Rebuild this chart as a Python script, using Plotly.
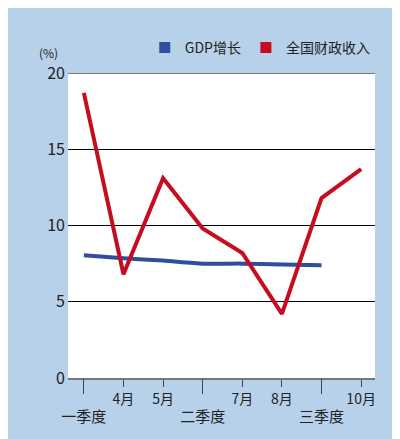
import plotly.graph_objects as go

positions = [0, 1, 2, 3, 4, 5, 6, 7]
month_pos = [1, 2, 4, 5, 7]
month_labels = ["4月", "5月", "7月", "8月", "10月"]
quarter_pos = [0, 3, 6]
quarter_labels = ["一季度", "二季度", "三季度"]

fiscal = [18.7, 6.8, 13.1, 9.8, 8.2, 4.2, 11.8, 13.7]
gdp_pos = [0, 1, 2, 3, 4, 5, 6]
gdp = [8.05, 7.85, 7.7, 7.5, 7.5, 7.45, 7.4]

FONT = "Noto Sans CJK SC"
BG = "#b7d1ea"
BLUE = "#2f4e9e"
RED = "#c40d1e"

fig = go.Figure()
fig.add_trace(go.Scatter(x=gdp_pos, y=gdp, mode="lines", showlegend=False,
                         line=dict(color=BLUE, width=4, shape="spline", smoothing=0.6)))
fig.add_trace(go.Scatter(x=positions, y=fiscal, mode="lines", showlegend=False,
                         line=dict(color=RED, width=4)))
# legend entries with square swatches
for name, color in [("GDP增长", BLUE), ("全国财政收入", RED)]:
    fig.add_trace(go.Scatter(x=[None], y=[None], mode="markers", name=name,
                             marker=dict(symbol="square", size=11, color=color)))
# invisible trace to hold the quarter axis
fig.add_trace(go.Scatter(x=quarter_pos, y=[None] * 3, xaxis="x2", showlegend=False,
                         hoverinfo="skip"))

fig.update_layout(
    width=400, height=439,
    paper_bgcolor=BG, plot_bgcolor="white",
    margin=dict(l=60, r=33, t=65, b=69, autoexpand=False),
    font=dict(family=FONT, size=13, color="#222"),
    showlegend=True,
    legend=dict(orientation="h", x=0.25, y=1.03, xanchor="left", yanchor="bottom",
                bgcolor="rgba(0,0,0,0)", font=dict(size=14), itemwidth=30,
                tracegroupgap=0),
    xaxis=dict(range=[-0.4, 7.35], tickvals=month_pos, ticktext=month_labels,
               ticks="outside", ticklen=7, tickcolor="#444", showgrid=False,
               zeroline=False, showline=True, linecolor="#777", linewidth=2,
               tickfont=dict(size=14)),
    xaxis2=dict(range=[-0.4, 7.35], overlaying="x", side="bottom", anchor="y",
                tickvals=quarter_pos, ticktext=quarter_labels, ticks="outside",
                ticklen=15, tickcolor="#444", showgrid=False, zeroline=False,
                ticklabelstandoff=10, tickfont=dict(size=15)),
    yaxis=dict(range=[0, 20], tickvals=[0, 5, 10, 15, 20], showgrid=True,
               gridcolor="black", gridwidth=1, zeroline=False, ticks="",
               tickfont=dict(size=16), ticklabelstandoff=2),
    annotations=[dict(text="(%)", xref="paper", yref="paper", x=-0.1, y=1.1,
                      showarrow=False, font=dict(size=12))],
)
fig.add_hline(y=20, line=dict(color="#777", width=2))

fig.write_html("out.html")
